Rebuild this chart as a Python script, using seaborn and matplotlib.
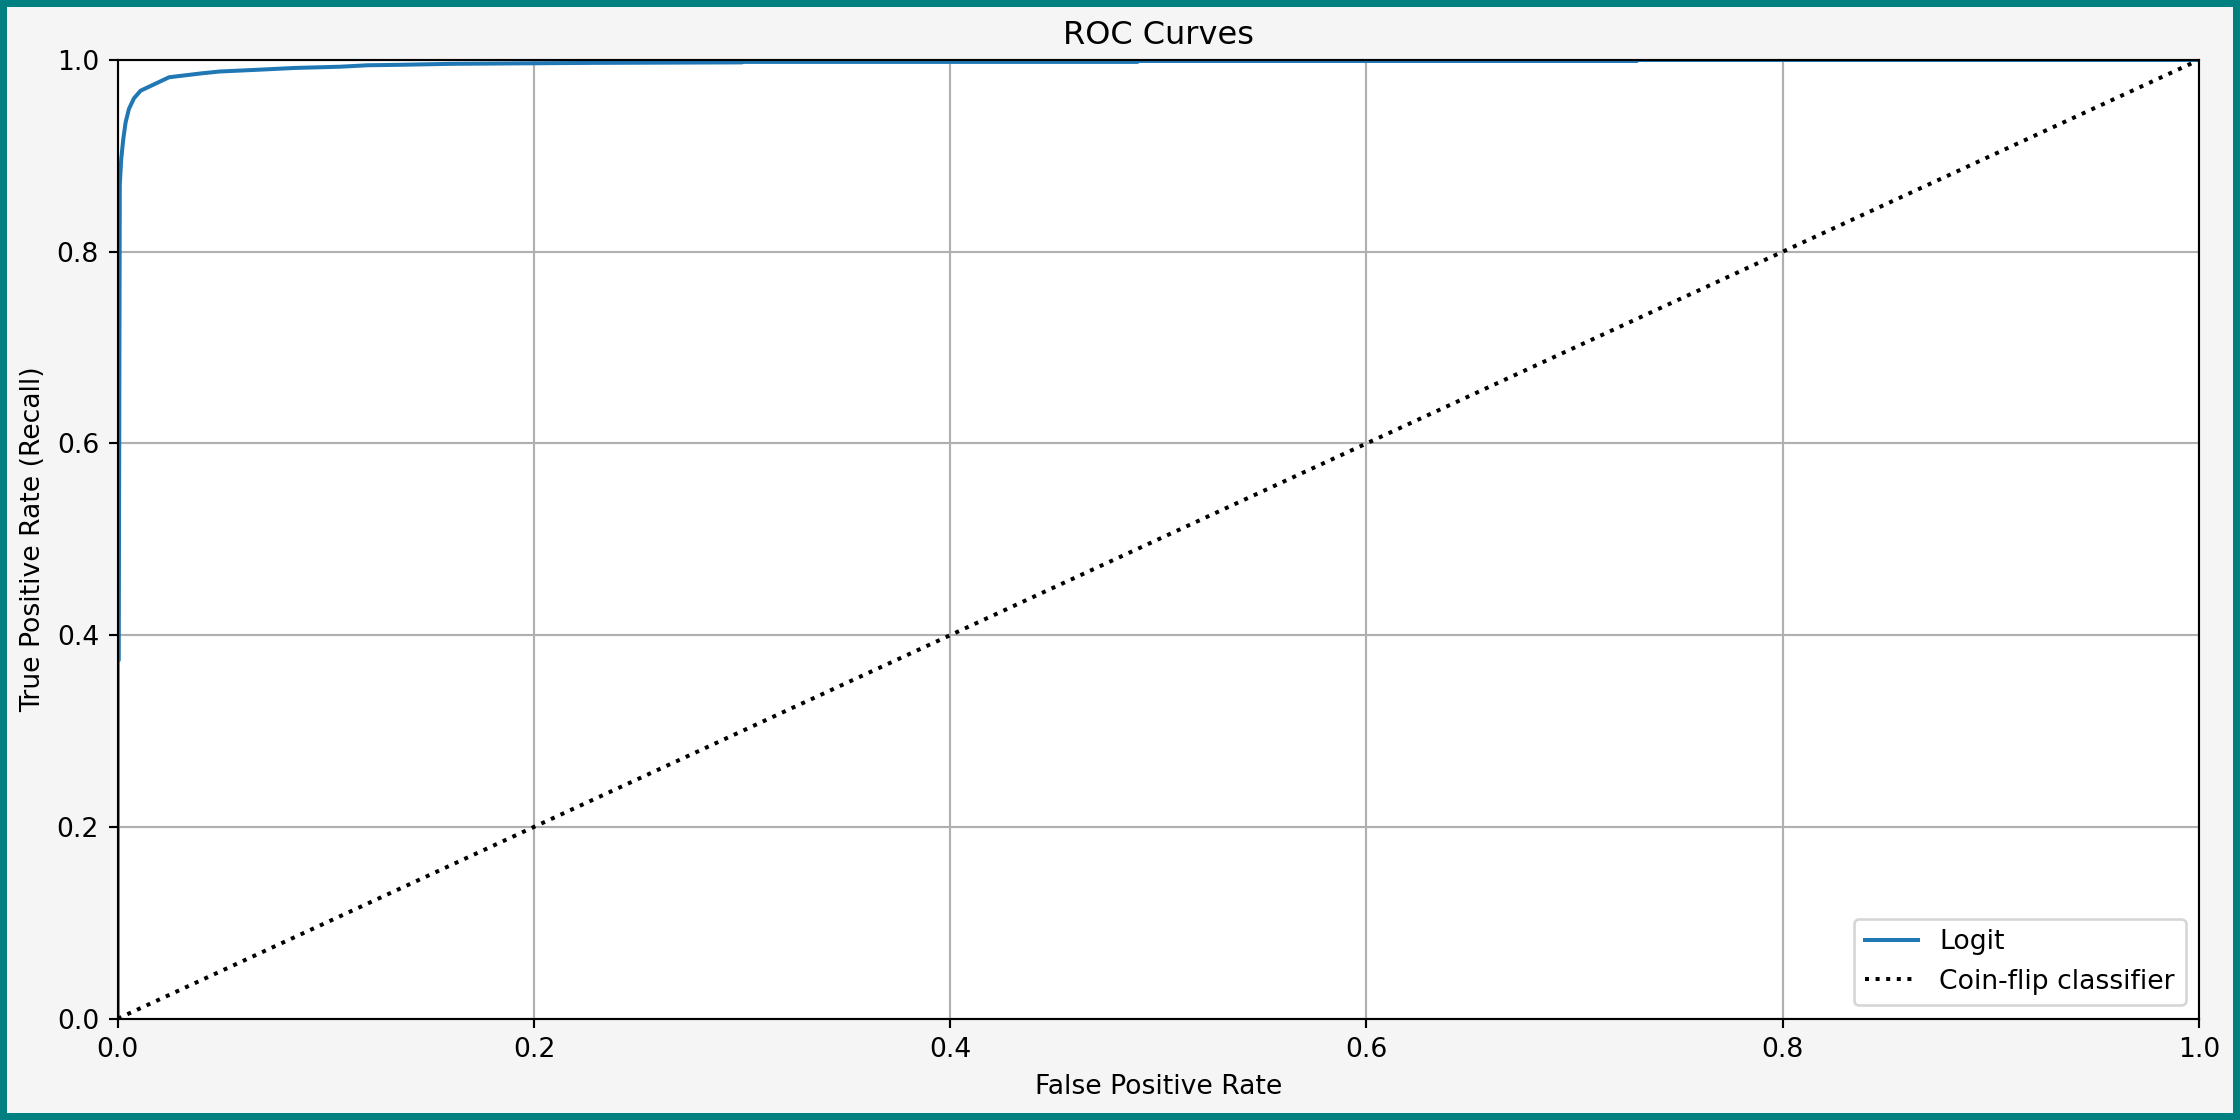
import matplotlib
matplotlib.use('Agg')
import matplotlib.pyplot as plt
import seaborn as sns
import pandas as pd

# ROC curve points
fpr = [0.0, 0.0, 0.0005, 0.001, 0.0017, 0.0027, 0.0038, 0.0054, 0.0078, 0.011,
       0.0159, 0.0247, 0.040, 0.049, 0.069, 0.085, 0.107, 0.120, 0.136, 0.16,
       0.229, 0.30, 0.30, 0.49, 0.49, 0.73, 0.73, 1.0]
tpr = [0.0, 0.374, 0.374, 0.87, 0.897, 0.918, 0.935, 0.949, 0.960, 0.968,
       0.973, 0.982, 0.986, 0.988, 0.990, 0.9917, 0.993, 0.9945, 0.995, 0.996,
       0.997, 0.9975, 0.998, 0.998, 0.999, 0.999, 1.0, 1.0]

coin_x = [0, 1]
coin_y = [0, 1]

df = pd.DataFrame({'fpr': fpr, 'tpr': tpr})

fig, ax = plt.subplots(figsize=(2240/192, 1120/192), dpi=192,
                       facecolor='whitesmoke', edgecolor='teal', linewidth=5.2)
sns.lineplot(data=df, x='fpr', y='tpr', sort=False, estimator=None,
             color='#1f77b4', linewidth=1.5, label='Logit', ax=ax)
sns.lineplot(x=coin_x, y=coin_y, color='black', linestyle=':', linewidth=1.5,
             label='Coin-flip classifier', ax=ax)
ax.set_xlim(0, 1)
ax.set_ylim(0, 1)
ax.grid(True)
ax.set_title('ROC Curves')
ax.set_xlabel('False Positive Rate')
ax.set_ylabel('True Positive Rate (Recall)')
ax.legend(loc='lower right')
plt.tight_layout(pad=0.75)
plt.savefig('out.png', facecolor=fig.get_facecolor(), edgecolor=fig.get_edgecolor())
